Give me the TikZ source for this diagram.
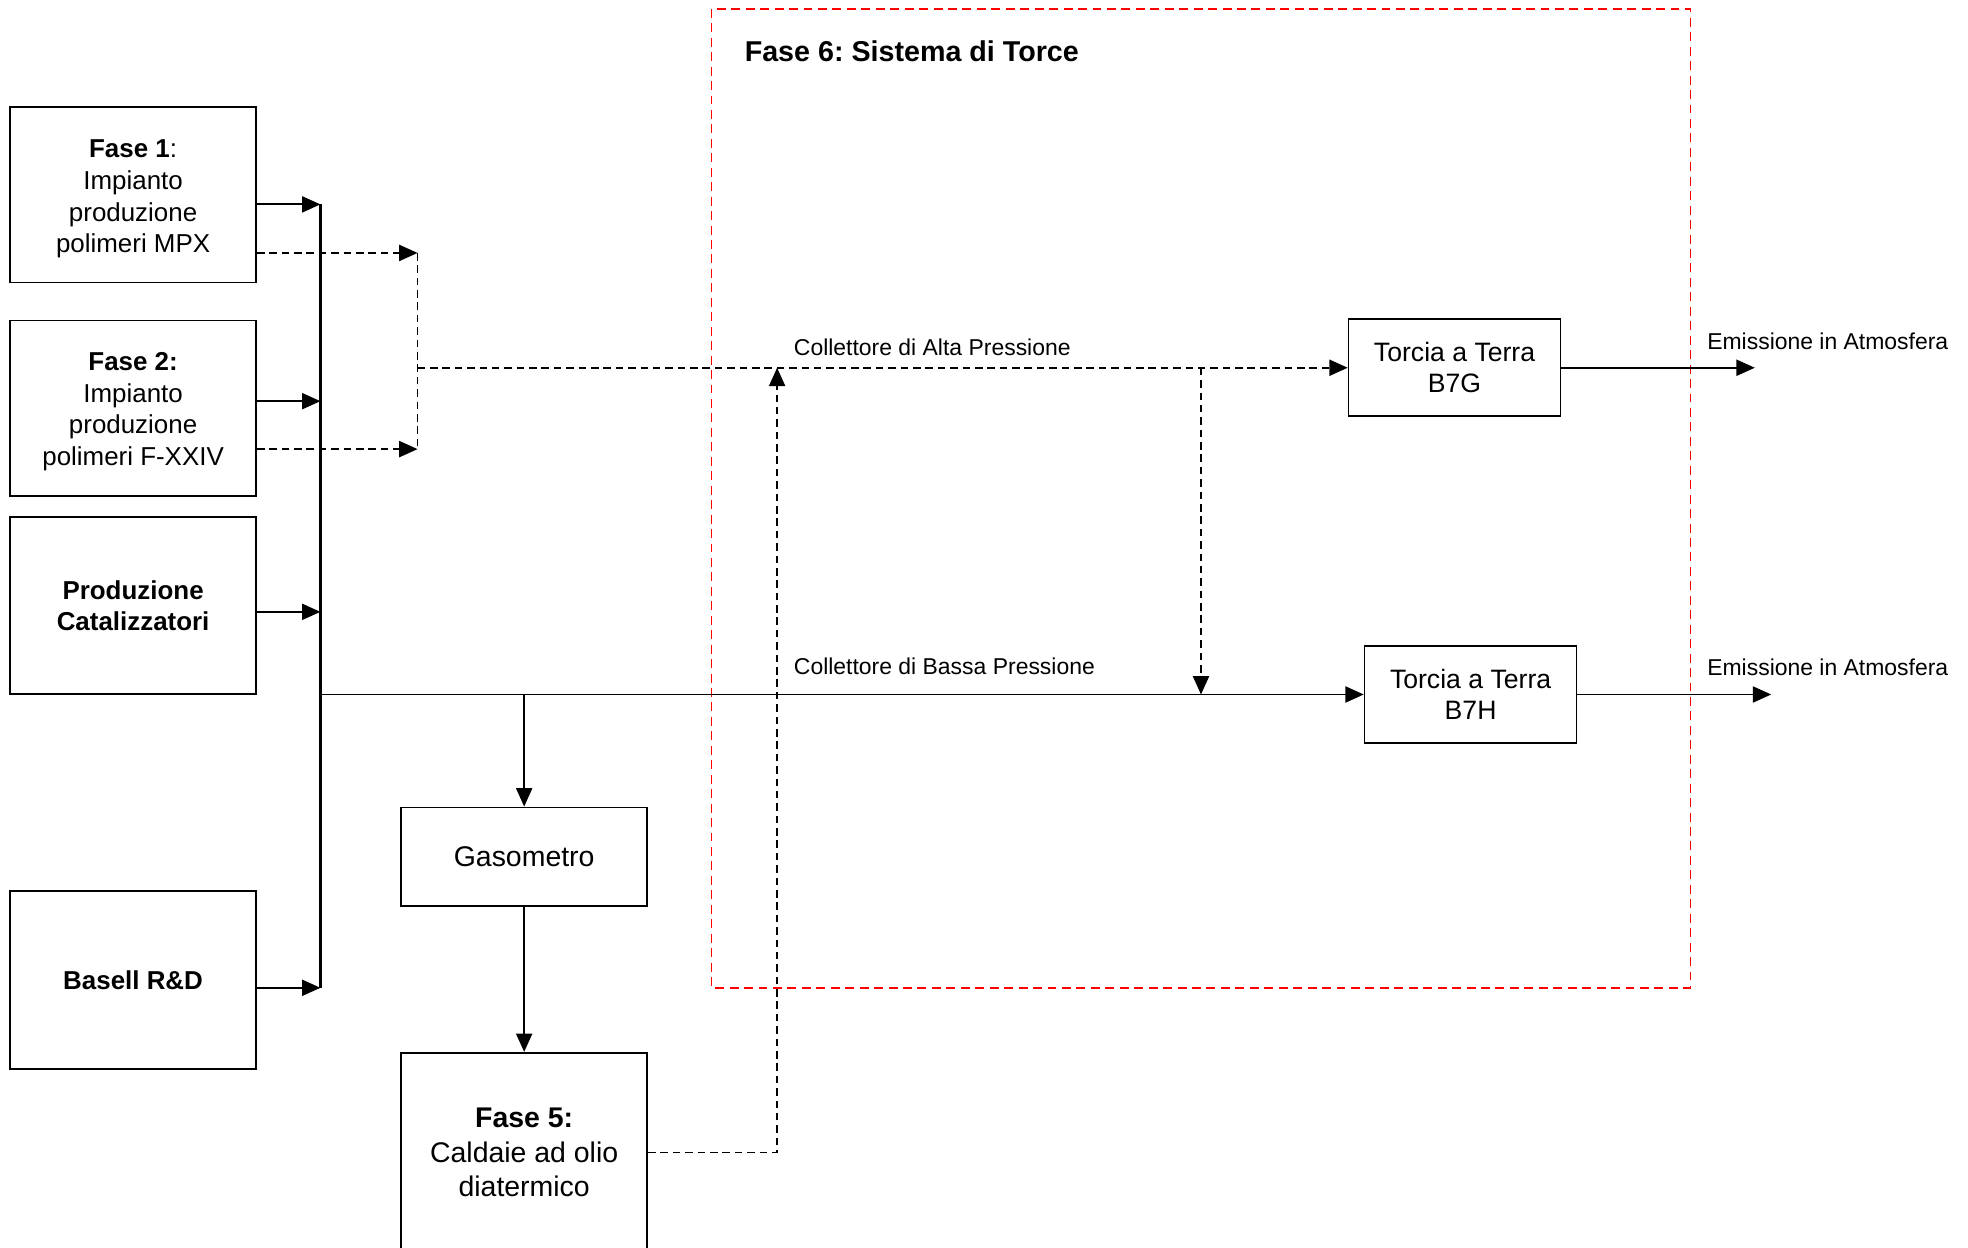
\documentclass[tikz,border=0pt]{standalone}
\usepackage{fontspec}
\setmainfont{Liberation Sans}
\frenchspacing
\usetikzlibrary{arrows.meta}

\begin{document}
\begin{tikzpicture}[x=0.55pt, y=-0.55pt,
		box/.style={draw, line width=0.75pt, align=center, inner sep=0pt, minimum width=107.25pt},
		fase/.style={box, minimum height=76.45pt, font=\fontsize{11.3}{13.75}\selectfont},
		torcia/.style={box, minimum width=92.4pt, minimum height=42.2pt, font=\fontsize{11.6}{13.5}\selectfont},
		big/.style={box, font=\fontsize{12.4}{15.1}\selectfont},
		lbl/.style={anchor=west, inner sep=0pt, font=\fontsize{10}{12}\selectfont},
		arr/.style={-{Triangle[length=8pt,width=7pt]}, line width=0.8pt},
		dsh/.style={dash pattern=on 3.3pt off 2.1pt}]
		\useasboundingbox (0,0) rectangle (1560,988.5);
		
		\node[fase] (f1) at (105.5,154.5) {\rule{0pt}{11.4pt}\textbf{Fase 1}:\\Impianto\\produzione\\polimeri MPX};
		\node[fase] (f2) at (105.5,323.5) {\rule{0pt}{11pt}\textbf{Fase 2:}\\Impianto\\produzione\\polimeri F-XXIV};
		\node[fase, minimum height=77pt, font=\bfseries\fontsize{11.3}{13.75}\selectfont] (cat) at (105.5,480) {Produzione\\Catalizzatori};
		\node[fase, minimum height=77.6pt] (rd) at (105.5,777) {\textbf{Basell R\&D}};
		\node[big, minimum height=42.9pt] (gas) at (415.5,679) {Gasometro};
		\node[big, minimum height=86.9pt] (f5) at (415.5,913.5) {\textbf{Fase 5:}\\Caldaie ad olio\\diatermico};
		\node[torcia] (b7g) at (1153,291.5) {Torcia a Terra\\B7G};
		\node[torcia] (b7h) at (1165.7,550.5) {Torcia a Terra\\B7H};
		
		\draw[red, dash pattern=on 3.9pt off 2.4pt, line width=0.75pt] (564,7) rectangle (1340,783);
		\node[lbl, font=\bfseries\fontsize{12.5}{15}\selectfont] (t6) at (590,41) {Fase 6: Sistema di Torce};
		
		\coordinate (bt) at (254,162);
		\coordinate (b2) at (254,318);
		\coordinate (b3) at (254,485);
		\coordinate (bb) at (254,783);
		\coordinate (p0) at (254,550.5);
		\coordinate (d1) at (331,200.5);
		\coordinate (d2) at (331,356);
		\coordinate (a0) at (331,291.5);
		\coordinate (c5) at (616,913.5);
		\coordinate (j) at (952,291.5);
		\coordinate (e1) at (1391,291.5);
		\coordinate (e2) at (1404,550.5);
		
		\draw[line width=1.25pt] (bt) -- (bb);
		\draw[arr] (f1.east |- bt) -- (bt);
		\draw[arr] (f2.east |- b2) -- (b2);
		\draw[arr] (cat.east |- b3) -- (b3);
		\draw[arr] (rd.east |- bb) -- (bb);
		
		\draw[arr, dsh] (f1.east |- d1) -- (d1);
		\draw[arr, dsh] (f2.east |- d2) -- (d2);
		\draw[line width=0.8pt, dsh] (d1) -- (d2);
		\draw[arr, dsh] (a0) -- (b7g.west);
		\node[lbl] (lalta) at (629,275) {Collettore di Alta Pressione};
		
		\draw[arr] (p0) -- (b7h.west);
		\node[lbl] (lbassa) at (629,528.5) {Collettore di Bassa Pressione};
		\draw[arr] (gas.north |- p0) -- (gas.north);
		\draw[arr] (gas) -- (f5);
		\draw[arr, dsh] (f5.east) -- (c5) -- (c5 |- a0);
		\draw[arr, dsh] (j) -- (j |- p0);
		
		\draw[arr] (b7g.east) -- (e1);
		\draw[arr] (b7h.east) -- (e2);
		\node[lbl] (em1) at (1353,270.6) {Emissione in Atmosfera};
		\node[lbl] (em2) at (1353,529) {Emissione in Atmosfera};
\end{tikzpicture}
\end{document}
